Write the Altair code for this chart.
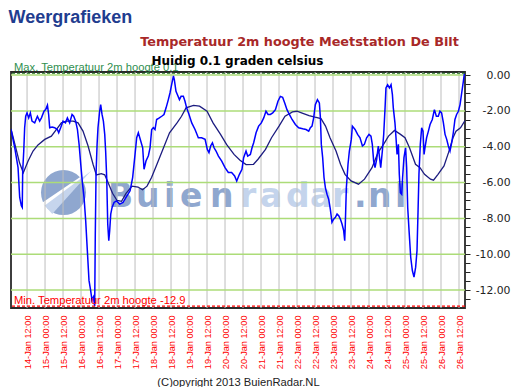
import json
import altair as alt
import pandas as pd

# ---------------- data ----------------
# hours since 14-Jan 00:00 and temperature (deg C) of the hourly series
obs_hours = [1.3, 3.8, 6.0, 7.1, 8.2, 8.8, 9.1, 9.8, 10.4, 11.1, 12.0, 13.1, 14.2, 15.3, 17.1,
             18.9, 20.4, 21.6, 23.3, 24.4, 25.6, 26.4, 27.1, 28.7, 30.4, 32.2, 33.1, 34.4, 36.0,
             37.6, 38.9, 40.4, 42.0, 43.1, 44.4, 45.6, 46.7, 47.8, 48.9, 50.0, 51.1, 52.2, 53.3,
             54.4, 55.3, 56.2, 57.1, 57.5, 58.0, 58.7, 59.3, 60.4, 61.1, 62.0, 62.9, 63.8, 64.4,
             65.1, 65.8, 66.5, 67.1, 67.8, 68.7, 70.0, 71.6, 73.8, 76.0, 78.2,
             80.7, 82.4, 84.0, 85.1, 86.2, 87.8, 89.1, 90.0, 91.3, 92.9, 94.0, 95.1, 96.2, 97.3,
             98.4, 100.2, 101.8, 103.3, 104.7, 106.2, 107.3, 108.4, 109.6, 110.2, 111.3, 112.2,
             113.6, 114.7, 116.2, 117.3, 118.4, 120.0, 121.8, 124.0, 126.2, 128.4, 130.7, 132.2,
             133.3, 134.4, 135.6, 136.7, 138.0, 139.6, 141.8, 144.0, 146.2, 148.4, 150.4, 151.8,
             153.6, 155.3, 156.4, 158.0, 159.1, 160.9, 162.0, 163.1, 164.7, 166.4, 168.2, 169.8,
             171.3, 172.7, 174.2, 175.8, 177.6, 179.3, 180.9, 182.4, 183.8, 185.3, 186.9, 188.7,
             190.9, 193.1, 195.8, 198.0, 199.8, 200.9, 202.0, 203.1, 204.2, 205.6, 206.9, 207.6,
             208.2, 209.1, 210.0, 210.9, 212.0, 213.1, 214.2, 215.3, 216.4, 217.6, 218.7, 219.8,
             220.9, 222.0, 223.1, 223.8, 224.2, 224.9, 226.0, 226.9, 228.2,
             228.9, 230.7, 232.4, 234.0, 235.6, 236.9, 238.4, 240.0, 241.3, 242.2, 243.1, 244.0,
             245.1, 246.2, 246.9, 247.8, 248.9, 249.8, 250.7, 251.3, 252.4, 253.6, 254.7, 255.6,
             256.2, 257.3, 258.0, 258.7, 259.6, 260.2, 260.9, 261.8, 262.4, 263.3, 264.4, 265.1,
             265.8, 266.7, 267.8, 268.9, 270.0, 271.1, 272.0, 272.7, 273.3, 274.2, 275.1, 276.0,
             276.7, 277.3, 278.4, 279.6, 280.7, 282.2, 283.6, 284.9, 286.2, 287.3, 288.4, 289.6,
             290.7, 291.8, 292.9, 294.0, 295.1, 296.2, 297.3, 298.4, 299.6, 300.7, 301.8, 302.9,
             303.6]
obs_temp = [-3.04, -4.06, -5.17, -6.83, -7.30, -7.39, -5.35, -4.24, -2.94, -2.30, -2.11, -2.39,
            -2.11, -2.57, -2.67, -2.30, -2.57, -2.39, -2.02, -1.93, -1.68, -2.20, -2.94, -2.90,
            -2.94, -3.04, -3.22, -2.94, -2.57, -2.67, -2.39, -2.67, -2.20, -2.30, -2.57, -3.04,
            -3.87, -4.98, -6.00, -6.83, -8.13, -9.80, -11.46, -12.02, -12.57, -12.39, -12.90,
            -8.87, -5.54, -3.87, -2.94, -2.02, -1.65, -2.20, -2.57, -3.31, -4.24, -5.72, -8.31,
            -9.24, -8.68, -7.76, -7.39, -7.11, -7.02, -7.20, -7.11, -6.80,
            -6.46, -5.72, -4.43, -3.50, -3.22, -3.68, -4.06, -5.26, -4.80, -4.50, -4.06, -3.04,
            -2.94, -3.04, -2.48, -2.39, -2.30, -2.20, -1.83, -1.37, -1.00, -0.54, -0.05, -0.26,
            -0.91, -1.09, -1.37, -1.19, -1.19, -1.46, -1.83, -2.20, -2.67, -3.04, -3.50, -3.50,
            -3.59, -4.15, -4.33, -3.96, -3.78, -4.06, -4.24, -4.52, -4.80, -5.17, -5.44, -5.44,
            -5.63, -5.91, -5.54, -5.26, -4.61, -4.24, -4.52, -4.43, -4.06, -3.78, -3.22, -2.85,
            -2.67, -2.39, -2.02, -2.20, -2.20, -2.11, -1.93, -1.46, -1.19, -1.24, -1.56, -1.93,
            -2.20, -2.48, -2.76, -2.94, -3.00, -3.04, -3.13, -2.94, -2.85, -2.39, -1.65, -1.37,
            -1.56, -2.39, -3.87, -4.61, -5.72, -6.28, -6.65, -6.93, -7.48, -8.22, -8.04, -7.94,
            -7.76, -7.85, -8.04, -8.31, -8.68, -9.24, -8.31, -6.28, -4.98, -4.24, -3.59,
            -2.85, -3.04, -3.31, -3.50, -3.96, -3.87, -3.50, -3.31, -3.41, -3.87, -4.80, -5.17,
            -4.70, -3.96, -4.52, -5.17, -4.24, -3.31, -1.83, -0.72, -0.54, -0.72, -0.54, -1.09,
            -1.83, -2.67, -3.50, -4.43, -3.87, -5.54, -6.56, -6.65, -5.72, -4.61, -4.06, -5.17,
            -7.39, -8.68, -10.17, -10.91, -11.28, -10.72, -9.80, -7.57, -5.54, -3.87, -2.94,
            -3.13, -4.43, -4.06, -3.50, -3.13, -2.76, -2.48, -1.93, -2.30, -2.30, -2.02, -2.11,
            -2.67, -3.31, -3.59, -3.96, -4.24, -3.78, -3.22, -2.48, -2.20, -2.02, -1.65, -1.00,
            -0.35, 0.10]

# smooth (averaged) series
avg_hours = [1.3, 4, 7, 9.5, 12.7, 16, 19.3, 23.8, 28.2, 31.5, 34.9, 38.2, 42.7, 46, 49.3, 52.7,
             56, 58.2, 61.5, 63.8, 66, 69, 72, 75, 78, 82, 86, 89, 92, 95, 98, 103, 107, 112,
             115, 118, 123, 127, 132, 136, 141, 145, 150, 154, 158, 163, 166, 171, 175, 180, 184,
             189, 192, 195, 200, 204, 208, 211, 214, 218, 221, 224, 228, 233, 237, 242, 246, 250,
             253, 257, 261, 264, 267, 271, 274, 277, 281, 283, 286, 290, 293, 296, 298, 301, 304]
avg_temp = [-3.0, -3.9, -4.9, -5.45, -4.8, -4.24, -3.9, -3.59, -3.41, -3.04, -2.67, -2.57, -2.57,
            -2.67, -3.13, -3.96, -4.98, -5.57, -5.5, -5.57, -6.0, -6.6, -7.0, -7.05, -6.6, -6.2,
            -6.25, -6.4, -6.2, -5.72, -5.1, -4.06, -3.22, -2.67, -2.3, -1.83, -1.69, -1.74, -2.02,
            -2.67, -3.31, -3.87, -4.43, -4.75, -5.0, -4.98, -4.7, -4.15, -3.5, -2.85, -2.3, -2.06,
            -2.02, -2.11, -2.26, -2.35, -2.43, -2.85, -3.5, -4.24, -4.98, -5.54, -5.91, -6.09,
            -5.81, -5.17, -4.33, -3.83, -3.41, -3.09, -3.31, -3.5, -4.06, -4.98, -5.17, -5.54,
            -5.81, -5.87, -5.54, -5.07, -4.33, -3.5, -3.13, -2.94, -2.54]

t_max = 0.1
t_min = -12.9
tick_hours = [12, 24, 36, 48, 60, 72, 84, 96, 108, 120, 132, 144, 156, 168, 180, 192, 204, 216,
              228, 240, 252, 264, 276, 288, 300]
tick_labels = ["14-Jan 12:00", "15-Jan 00:00", "15-Jan 12:00", "16-Jan 00:00", "16-Jan 12:00",
               "17-Jan 00:00", "17-Jan 12:00", "18-Jan 00:00", "18-Jan 12:00", "19-Jan 00:00",
               "19-Jan 12:00", "20-Jan 00:00", "20-Jan 12:00", "21-Jan 00:00", "21-Jan 12:00",
               "22-Jan 00:00", "22-Jan 12:00", "23-Jan 00:00", "23-Jan 12:00", "24-Jan 00:00",
               "24-Jan 12:00", "25-Jan 00:00", "25-Jan 12:00", "26-Jan 00:00", "26-Jan 12:00"]
grid_temps = [0, -2, -4, -6, -8, -10, -12]
y_ticks = [v / 2 for v in range(-25, 1)]

# watermark letters ("Buienradar.nl") with their anchor hours
wm_letters = ["B", "u", "i", "e", "n", "r", "a", "d", "a", "r", ".", "n", "l"]
wm_hours = [66.0, 84.7, 103.3, 114.0, 134.0, 154.0, 167.3, 184.7, 200.7, 215.3, 230.0, 239.3, 257.3]
wm_colors = ["#8fa7cf"] * 5 + ["#c4d4ec"] * 5 + ["#8fa7cf"] * 3

# ---------------- chart ----------------
X_DOM = [1.3, 304]
Y_DOM = [-13.0, 0.17]
xs = alt.Scale(domain=X_DOM, nice=False, zero=False)
ys = alt.Scale(domain=Y_DOM, nice=False, zero=False)

label_expr_x = json.dumps(tick_labels) + "[round(datum.value / 12) - 1]"
label_expr_y = ("datum.value % 2 == 0 ? (datum.value < 0 ? '-' : '') + "
                "format(abs(datum.value), '.2f') : ''")

x_axis = alt.Axis(values=tick_hours, labelExpr=label_expr_x, labelAngle=270,
                  labelAlign="right", labelBaseline="middle",
                  labelColor="#ff0000", labelFont="Liberation Sans", labelFontSize=9.2,
                  ticks=False, domain=False, grid=False, labelPadding=7,
                  labelOverlap=False, labelFlush=False, title=None)
y_axis = alt.Axis(orient="right", values=y_ticks, labelExpr=label_expr_y, tickSize=5,
                  tickColor="#222222", domain=False, grid=False, labelAlign="right",
                  labelBaseline="middle", labelPadding=40, labelFont="DejaVu Sans",
                  labelFontSize=10.8, labelColor="#222222", labelOverlap=False,
                  labelFlush=False, title=None)

X = alt.X("h:Q", scale=xs, axis=x_axis)
Y = alt.Y("t:Q", scale=ys, axis=y_axis)

obs = pd.DataFrame({"h": obs_hours, "t": obs_temp})
avg = pd.DataFrame({"h": avg_hours, "t": avg_temp})

# watermark (logo + text), anchored in data space
logo = pd.DataFrame({"h": [36.3], "t": [-6.56]})
logo_circle = alt.Chart(logo).mark_point(shape="circle", filled=True, size=2025,
                                          color="#8fa7cf", opacity=1).encode(x=X, y=Y)
logo_wedge = alt.Chart(logo).mark_point(
    shape="M -0.9 0.5 L 1.3 -1.05 L -0.5 0.95 Z", filled=True, size=2025,
    color="#c6d5ed", opacity=1).encode(x=X, y=Y)
logo_stripe = alt.Chart(logo).mark_point(
    shape="M -0.95 0.45 L 1.35 -1.1 L 1.3 -1.02 L -0.85 0.58 Z", filled=True, size=2025,
    color="#ffffff", opacity=1).encode(x=X, y=Y)

wm = pd.DataFrame({"h": wm_hours, "t": [-7.37] * len(wm_letters),
                   "s": wm_letters, "c": wm_colors})
wm_text = alt.Chart(wm).mark_text(align="left", baseline="alphabetic", font="DejaVu Sans",
                                  fontWeight="bold", fontSize=33).encode(
    x=X, y=Y, text="s:N", color=alt.Color("c:N", scale=None))

vgrid = alt.Chart(pd.DataFrame({"h": tick_hours})).mark_rule(
    color="#bdbdbd", strokeWidth=1).encode(x=X)
hgrid = alt.Chart(pd.DataFrame({"t": grid_temps})).mark_rule(
    color="#acdc78", strokeWidth=1.5).encode(y=Y)

avg_line = alt.Chart(avg).mark_line(color="#1c1c80", strokeWidth=1.3, clip=True).encode(
    x=X, y=Y)
obs_line = alt.Chart(obs).mark_line(color="#0000ff", strokeWidth=1.5, clip=True).encode(
    x=X, y=Y)

ext = pd.DataFrame({"t": [t_max, t_min],
                    "lab": ["Max. Temperatuur 2m hoogte " + str(t_max),
                            "Min. Temperatuur 2m hoogte " + str(t_min)],
                    "c": ["#2f8f4f", "#ff0000"], "h": [X_DOM[0], X_DOM[0]]})
max_rule = alt.Chart(ext.iloc[[0]]).mark_rule(color="#1f6f1f", strokeWidth=1.2,
                                               strokeDash=[3, 2]).encode(y=Y)
min_rule = alt.Chart(ext.iloc[[1]]).mark_rule(color="#ff0000", strokeWidth=1.2,
                                               strokeDash=[3, 2]).encode(y=Y)
ext_text = alt.Chart(ext).mark_text(align="left", baseline="alphabetic", dx=3, dy=-2,
                                    font="Liberation Sans", fontSize=11.2).encode(
    x=X, y=Y, text="lab:N", color=alt.Color("c:N", scale=None))

def deco(txt, x, y, size, color, weight="normal", font="Liberation Sans", align="left"):
    return alt.Chart(pd.DataFrame({"s": [txt]})).mark_text(
        align=align, baseline="alphabetic", font=font, fontSize=size, fontWeight=weight,
        color=color).encode(x=alt.value(x), y=alt.value(y), text="s:N")

head = deco("Weergrafieken", -2.5, -49.3, 18, "#1f3d8f", weight="bold")
title = deco("Temperatuur 2m hoogte Meetstation De Bilt", 288.5, -26, 12.8, "#a82828",
             weight="bold", font="DejaVu Sans", align="center")
sub = deco("Huidig 0.1 graden celsius", 226.5, -7, 12, "#000000", weight="bold",
           font="DejaVu Sans", align="center")
copy = deco("(C)opyright 2013 BuienRadar.NL", 227.5, 314, 11.2, "#222222", align="center")

chart = alt.layer(
    logo_circle, logo_wedge, logo_stripe, wm_text, vgrid, hgrid, avg_line, obs_line,
    max_rule, min_rule, ext_text, head, title, sub, copy
).properties(
    width=454, height=236,
    padding={"left": 3, "top": 64, "right": 50, "bottom": 79},
    autosize=alt.AutoSizeParams(type="none"),
    background="#ffffff",
).configure_view(stroke="#2a2a2a", strokeWidth=1.8)

chart.save("out.html", embed_options={"renderer": "svg", "actions": False})
